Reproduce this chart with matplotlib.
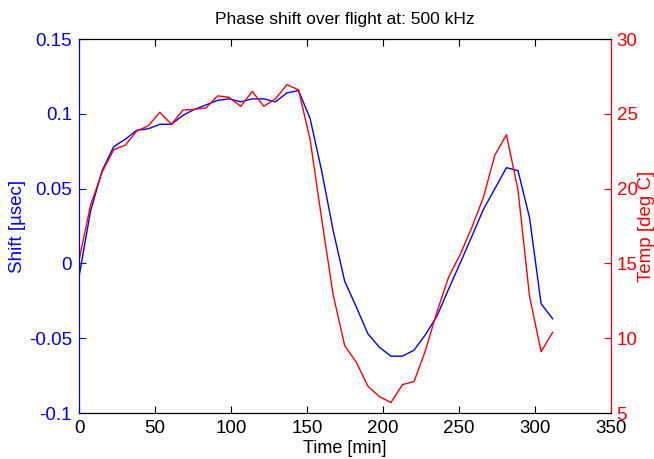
import numpy as np
import matplotlib
matplotlib.use("Agg")
import matplotlib.pyplot as plt

plt.rcParams['font.family'] = ['Liberation Sans', 'DejaVu Sans']

# time of each sample [min]
time_min = [0, 7.6, 15.2, 22.8, 30.4, 38, 45.6, 53.2, 60.8, 68.4,
            76, 83.6, 91.2, 98.8, 106.4, 114, 121.6, 129.2, 136.8, 144.4,
            152, 159.6, 167.2, 174.8, 182.4, 190, 197.6, 205.2, 212.8, 220.4,
            228, 235.6, 243.2, 250.8, 258.4, 266, 273.6, 281.2, 288.8, 296.4,
            304, 311.6]

# phase shift [usec]
shift = [-0.009, 0.035, 0.062, 0.078, 0.083, 0.089, 0.090, 0.093, 0.093, 0.099,
         0.103, 0.106, 0.109, 0.110, 0.108, 0.110, 0.110, 0.108, 0.114, 0.1155,
         0.097, 0.062, 0.022, -0.012, -0.029, -0.047, -0.056, -0.062, -0.062, -0.058,
         -0.0475, -0.035, -0.017, 0.0003, 0.018, 0.036, 0.050, 0.064, 0.062, 0.0305,
         -0.027, -0.037]

# temperature [deg C]
temp = [15.2, 18.9, 21.1, 22.6, 22.9, 23.85, 24.2, 25.1, 24.3, 25.25,
        25.3, 25.4, 26.2, 26.1, 25.5, 26.5, 25.5, 26.0, 26.95, 26.6,
        23.3, 18.0, 12.9, 9.5, 8.4, 6.8, 6.1, 5.7, 6.9, 7.1,
        9.2, 11.8, 14.1, 15.6, 17.4, 19.4, 22.25, 23.6, 19.9, 12.8,
        9.1, 10.4]

left_ticks = [-0.1, -0.05, 0, 0.05, 0.1, 0.15]
left_labels = ['-0.1', '-0.05', '0', '0.05', '0.1', '0.15']
right_ticks = [5, 10, 15, 20, 25, 30]
x_ticks = [0, 50, 100, 150, 200, 250, 300, 350]

fig = plt.figure(figsize=(6.54, 4.59), dpi=100)
ax = fig.add_axes([0.1208, 0.1002, 0.8135, 0.8148])
ax2 = ax.twinx()

ax.plot(time_min, shift, color='#0000ff', lw=1.0)
ax2.plot(time_min, temp, color='#ff0000', lw=1.0)

ax.set_xlim(0, 350)
ax.set_ylim(-0.1, 0.15)
ax2.set_ylim(5, 30)

ax.set_xticks(x_ticks)
ax.set_xticklabels([str(v) for v in x_ticks])
ax.set_yticks(left_ticks)
ax.set_yticklabels(left_labels)
ax2.set_yticks(right_ticks)

fs = 13.5
ax.tick_params(axis='x', direction='in', top=True, length=5, labelsize=fs, colors='black', pad=5)
ax.tick_params(axis='y', direction='in', length=5, labelsize=fs, colors='#0000ff', pad=5)
ax2.tick_params(axis='y', direction='in', length=5, labelsize=fs, colors='#ff0000', pad=4)

for a in (ax, ax2):
    a.spines['top'].set_color('black')
    a.spines['bottom'].set_color('black')
ax.spines['left'].set_color('#0000ff')
ax2.spines['left'].set_color('#0000ff')
ax2.spines['right'].set_color('#ff0000')
ax.spines['right'].set_color('#ff0000')

ax.set_xlabel('Time [min]', fontsize=13, labelpad=2)
ax.set_ylabel('Shift [µsec]', fontsize=13.5, color='#0000ff', labelpad=2)
ax2.set_ylabel('Temp [deg C]', fontsize=13.5, color='#ff0000', labelpad=0)
ax.set_title('Phase shift over flight at: 500 kHz', fontsize=12.5, pad=11)

fig.savefig('out.png', dpi=100)
